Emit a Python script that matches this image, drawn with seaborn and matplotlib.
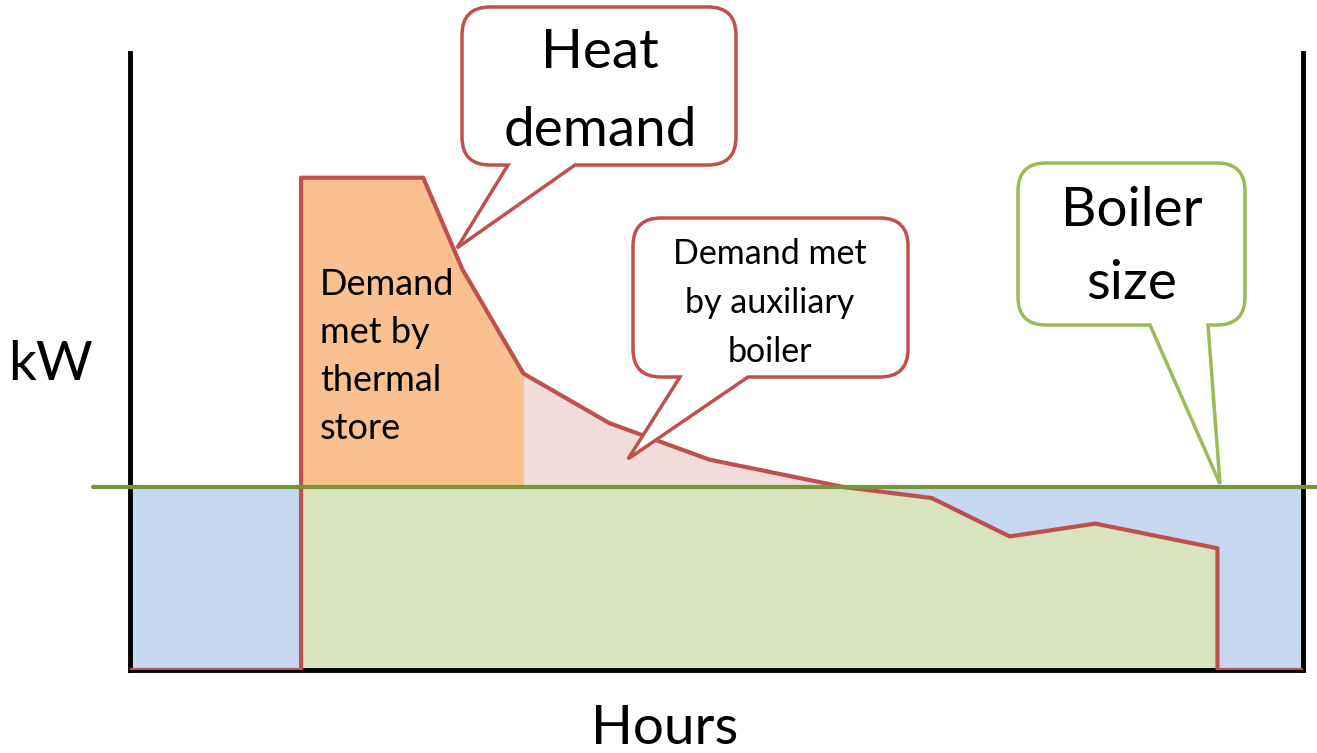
import matplotlib
matplotlib.use("Agg")
import matplotlib.pyplot as plt
import seaborn as sns
import numpy as np
import pandas as pd
from matplotlib.path import Path
from matplotlib.patches import PathPatch

# heat demand profile over the day (kW)
hours = [0, 3.5, 3.5, 6.0, 6.8, 8.05, 9.8, 11.85, 14.6, 16.4, 18.0, 19.75, 22.25, 22.25, 24]
demand_kw = [0, 0, 26.9, 26.9, 21.9, 16.2, 13.5, 11.5, 10.0, 9.4, 7.3, 8.0, 6.65, 0, 0]
boiler_kw = 10.0
store_end_hour = 8.05

RED = "#C0504D"
GREEN_LINE = "#77933C"
GREEN_EDGE = "#9BBB59"
W, H = 1317, 753


def bubble(ax, x0, y0, x1, y1, base_a, base_b, tip, color, r=28):
    # rounded callout box with a tail on the bottom edge (pixel coords, y down)
    verts = [(x0 + r, y0), (x1 - r, y0), (x1, y0), (x1, y0 + r), (x1, y1 - r),
             (x1, y1), (x1 - r, y1), (base_b, y1), tip, (base_a, y1), (x0 + r, y1),
             (x0, y1), (x0, y1 - r), (x0, y0 + r), (x0, y0), (x0 + r, y0), (x0 + r, y0)]
    codes = [Path.MOVETO, Path.LINETO, Path.CURVE3, Path.CURVE3, Path.LINETO,
             Path.CURVE3, Path.CURVE3, Path.LINETO, Path.LINETO, Path.LINETO, Path.LINETO,
             Path.CURVE3, Path.CURVE3, Path.LINETO, Path.CURVE3, Path.CURVE3, Path.CLOSEPOLY]
    ax.add_patch(PathPatch(Path(verts, codes), facecolor="white", edgecolor=color,
                           lw=2.5, joinstyle="miter"))


sns.set_theme(style="white")
plt.rcParams["font.family"] = ["Lato", "DejaVu Sans"]
plt.rcParams["text.color"] = "black"
plt.rcParams["axes.labelcolor"] = "black"

fig = plt.figure(figsize=(W / 100, H / 100), dpi=100)
ax = fig.add_axes([130 / W, (H - 670) / H, (1303 - 130) / W, (670 - 53) / H])

h = np.array(hours)
d = np.array(demand_kw)
low = np.minimum(d, boiler_kw)
high = np.maximum(d, boiler_kw)

ax.fill_between(h, 0, low, color="#D7E4BD", lw=0, zorder=1)
ax.fill_between(h, low, boiler_kw, color="#C6D9F1", lw=0, zorder=1)
ax.fill_between(h, boiler_kw, high, where=h <= store_end_hour, color="#FAC08F", lw=0, zorder=1)
ax.fill_between(h, boiler_kw, high, where=h >= store_end_hour, color="#F2DCDB", lw=0, zorder=1)

df = pd.DataFrame({"hours": hours, "kW": demand_kw})
sns.lineplot(data=df, x="hours", y="kW", sort=False, estimator=None, color=RED,
             lw=3.0, ax=ax, zorder=4)
ax.axhline(boiler_kw, xmin=-37 / 1173, xmax=1187 / 1173, color=GREEN_LINE,
           lw=3.0, clip_on=False, zorder=5)

ax.set_xlim(0, 24)
ax.set_ylim(0, (670 - 53) / 18.3)
ax.set_xticks([])
ax.set_yticks([])
for side in ["left", "right", "bottom"]:
    ax.spines[side].set_color("black")
    ax.spines[side].set_linewidth(3.5)
ax.spines["top"].set_visible(False)

ax.set_xlabel("Hours", fontsize=39.5, va="center")
ax.xaxis.set_label_coords(535 / 1173, -59 / 617)
ax.set_ylabel("kW", fontsize=39.5, rotation=0, va="center", ha="center")
ax.yaxis.set_label_coords(-79 / 1173, 306 / 617)

# callouts drawn on an overlay in pixel space
ov = fig.add_axes([0, 0, 1, 1], zorder=10)
ov.set_xlim(0, W)
ov.set_ylim(H, 0)
ov.axis("off")
ov.patch.set_alpha(0)

bubble(ov, 462, 7, 736, 165, 508, 575, (457, 248), RED)
bubble(ov, 633, 218, 908, 377, 680, 748, (628, 459), RED)
bubble(ov, 1018, 163, 1245, 325, 1150, 1208, (1220, 484), GREEN_EDGE)

ov.text(600, 28, "Heat\ndemand", ha="center", va="top", fontsize=39.5, linespacing=1.72)
ov.text(1132, 186, "Boiler\nsize", ha="center", va="top", fontsize=39.5, linespacing=1.61)
ov.text(770, 238, "Demand met\nby auxiliary\nboiler", ha="center", va="top",
        fontsize=24.5, linespacing=1.66)
ov.text(320, 268, "Demand\nmet by\nthermal\nstore", ha="left", va="top",
        fontsize=26, linespacing=1.56)

fig.savefig("out.png", dpi=100)
